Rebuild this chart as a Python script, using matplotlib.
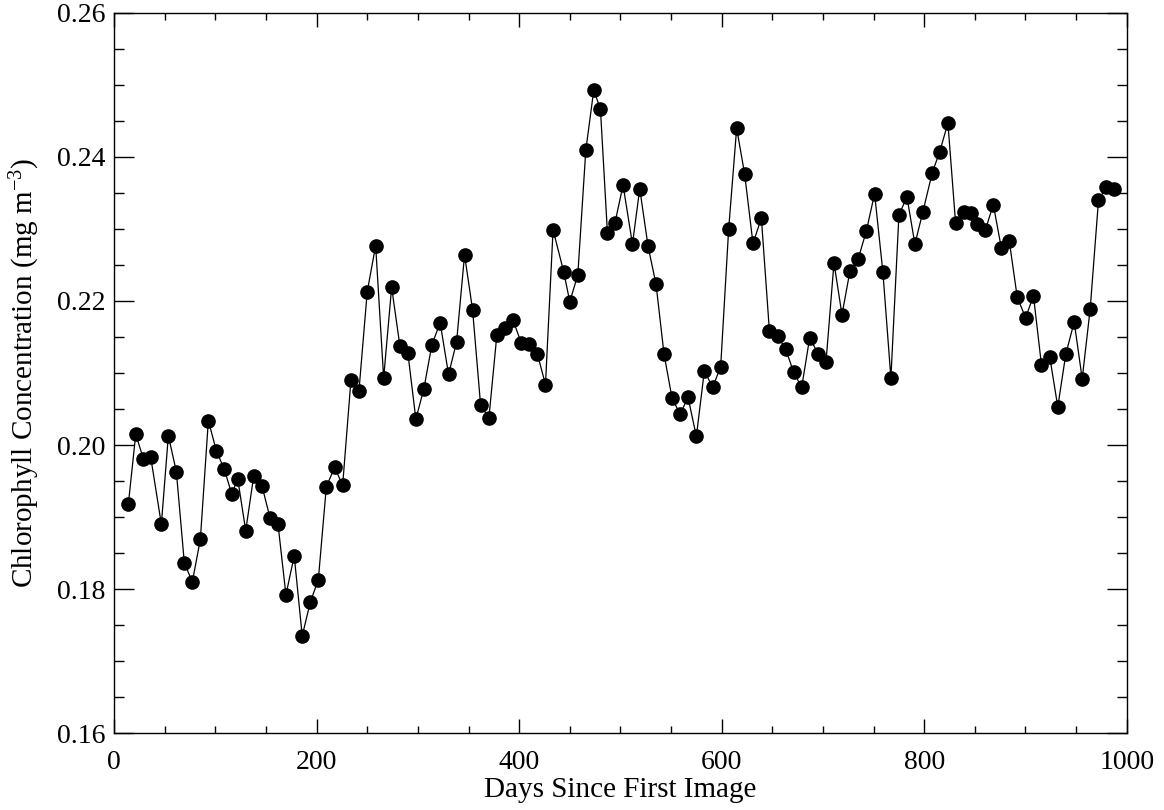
import numpy as np
import matplotlib
matplotlib.use("Agg")
import matplotlib.pyplot as plt
from matplotlib.ticker import MultipleLocator, FormatStrFormatter

# days since first image (8-day composites)
days = [14.1, 21.4, 28.9, 36.2, 46.7, 53.6, 61.5, 69.4, 77.3, 85.2,
        93.1, 101.0, 108.9, 116.2, 122.1, 130.0, 137.9, 146.1, 154.0, 161.8,
        169.7, 177.9, 185.8, 193.8, 201.7, 209.6, 217.8, 225.7, 233.9, 241.8,
        250.0, 258.3, 266.2, 274.1, 282.2, 290.1, 298.0, 305.9, 313.8, 322.0,
        330.3, 338.2, 346.1, 354.0, 361.9, 370.1, 378.0, 386.2, 394.1, 402.0,
        410.2, 418.1, 426.0, 433.5, 444.1, 450.0, 457.9, 465.8, 473.7, 480.3,
        487.2, 494.7, 502.6, 511.9, 519.1, 527.3, 535.2, 543.1, 551.0, 558.9,
        566.8, 575.0, 582.9, 591.1, 599.0, 606.9, 614.8, 622.7, 630.9, 639.2,
        647.1, 655.3, 663.2, 671.1, 679.0, 686.9, 695.1, 703.0, 710.9, 718.8,
        726.6, 734.9, 742.8, 751.0, 759.2, 767.1, 775.0, 782.9, 790.8, 798.7,
        807.9, 815.2, 823.4, 831.0, 838.9, 845.8, 852.2, 860.3, 868.2, 876.1,
        884.0, 891.9, 900.1, 907.9, 915.8, 924.0, 931.9, 939.8, 948.1, 956.0,
        963.9, 972.1, 979.7, 987.9]

# chlorophyll concentration (mg m^-3)
chl = [0.1918, 0.2015, 0.1981, 0.1983, 0.1890, 0.2013, 0.1963, 0.1836, 0.1810, 0.1869,
       0.2034, 0.1992, 0.1966, 0.1932, 0.1953, 0.1881, 0.1957, 0.1943, 0.1899, 0.1891,
       0.1792, 0.1846, 0.1735, 0.1782, 0.1813, 0.1942, 0.1969, 0.1944, 0.2090, 0.2075,
       0.2213, 0.2277, 0.2093, 0.2219, 0.2138, 0.2128, 0.2036, 0.2078, 0.2139, 0.2170,
       0.2098, 0.2143, 0.2264, 0.2188, 0.2056, 0.2037, 0.2153, 0.2163, 0.2173, 0.2142,
       0.2140, 0.2126, 0.2084, 0.2299, 0.2240, 0.2199, 0.2236, 0.2409, 0.2493, 0.2466,
       0.2294, 0.2309, 0.2361, 0.2279, 0.2356, 0.2276, 0.2223, 0.2126, 0.2065, 0.2043,
       0.2066, 0.2012, 0.2103, 0.2080, 0.2109, 0.2300, 0.2440, 0.2376, 0.2280, 0.2315,
       0.2159, 0.2151, 0.2133, 0.2101, 0.2080, 0.2149, 0.2127, 0.2115, 0.2253, 0.2181,
       0.2241, 0.2259, 0.2297, 0.2349, 0.2240, 0.2093, 0.2319, 0.2345, 0.2279, 0.2324,
       0.2378, 0.2407, 0.2447, 0.2308, 0.2324, 0.2322, 0.2307, 0.2298, 0.2334, 0.2274,
       0.2283, 0.2205, 0.2177, 0.2207, 0.2111, 0.2122, 0.2053, 0.2126, 0.2171, 0.2092,
       0.2189, 0.2340, 0.2358, 0.2355]

plt.rcParams['font.family'] = ['Liberation Serif', 'DejaVu Serif']
plt.rcParams['mathtext.fontset'] = 'custom'
plt.rcParams['mathtext.rm'] = 'Liberation Serif'
plt.rcParams['mathtext.it'] = 'Liberation Serif:italic'

fig = plt.figure(figsize=(11.64, 8.1), dpi=100)
ax = fig.add_axes([0.098, 0.095, 0.870, 0.889])

ax.plot(days, chl, '-', color='black', linewidth=0.9)
ax.plot(days, chl, 'o', color='black', markersize=9.5)

ax.set_xlim(0, 1000)
ax.set_ylim(0.16, 0.26)
ax.xaxis.set_major_locator(MultipleLocator(200))
ax.xaxis.set_minor_locator(MultipleLocator(50))
ax.yaxis.set_major_locator(MultipleLocator(0.02))
ax.yaxis.set_minor_locator(MultipleLocator(0.005))
ax.yaxis.set_major_formatter(FormatStrFormatter('%.2f'))

ax.tick_params(axis='both', which='both', direction='in', top=True, right=True,
               labelsize=20, color='black', width=1.0)
ax.tick_params(axis='x', which='major', length=10, pad=12)
ax.tick_params(axis='x', which='minor', length=5)
ax.tick_params(axis='y', which='major', length=14.5, pad=6)
ax.tick_params(axis='y', which='minor', length=7.2)
for s in ax.spines.values():
    s.set_linewidth(1.0)

ax.set_xlabel('Days Since First Image', fontsize=21, labelpad=2)
ax.set_ylabel('Chlorophyll Concentration (mg m$^{\\mathregular{-3}}$)', fontsize=21,
              labelpad=11)

plt.savefig('out.png', dpi=100)
